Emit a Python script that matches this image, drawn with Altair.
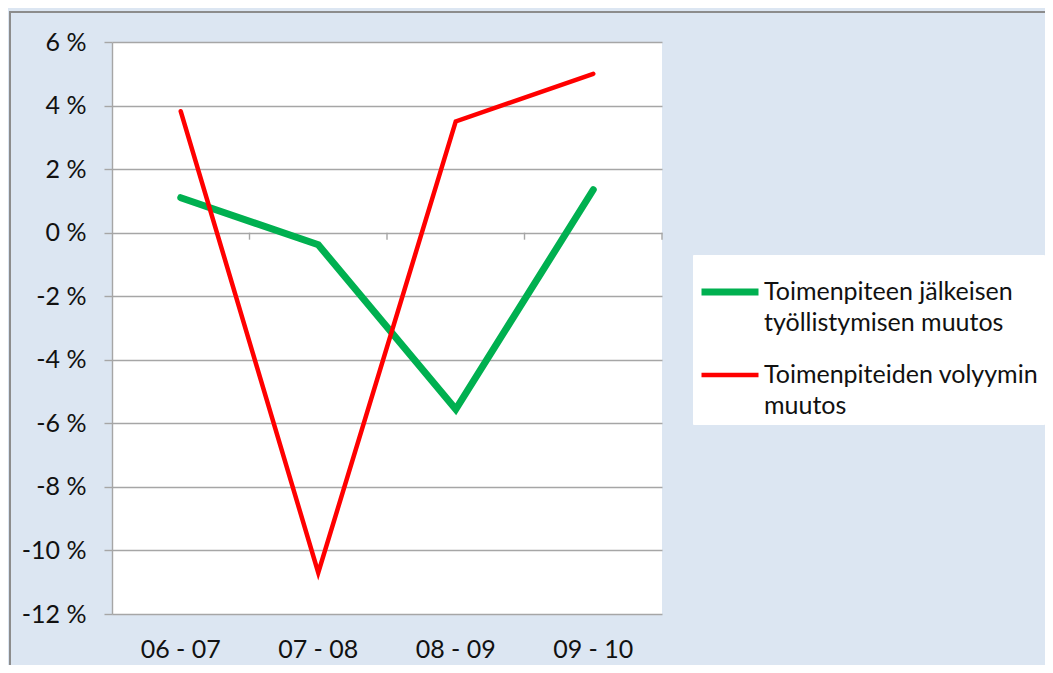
import altair as alt
import pandas as pd

periods = ["06 - 07", "07 - 08", "08 - 09", "09 - 10"]
series_names = [
    "Toimenpiteen jälkeisen|työllistymisen muutos",
    "Toimenpiteiden volyymin|muutos",
]
employment_change = [1.1, -0.38, -5.56, 1.35]
volume_change = [3.82, -10.7, 3.5, 5.0]
y_ticks = [-12, -10, -8, -6, -4, -2, 0, 2, 4, 6]
colors = ["#00B050", "#FF0000"]
widths = [7, 4.5]

rows = []
for p, v in zip(periods, employment_change):
    rows.append({"period": p, "series": series_names[0], "value": v, "order": 0})
for p, v in zip(periods, volume_change):
    rows.append({"period": p, "series": series_names[1], "value": v, "order": 1})
df = pd.DataFrame(rows)
ticks_df = pd.DataFrame({"period": periods})
frame_df = pd.DataFrame({"a": [0]})

FONT = "Lato"
GRID = "#A6A6A6"

x_enc = alt.X(
    "period:O",
    sort=periods,
    bandPosition=0.5,
    scale=alt.Scale(type="band", paddingInner=0, paddingOuter=0),
    axis=alt.Axis(
        title=None, labelAngle=0, domain=False, ticks=False, grid=False,
        bandPosition=0.5, labelAlign="center",
        labelFont=FONT, labelFontSize=25, labelColor="#111", labelPadding=35,
    ),
)
y_enc = alt.Y(
    "value:Q",
    scale=alt.Scale(domain=[-12, 6], nice=False),
    axis=alt.Axis(
        title=None, values=y_ticks, labelExpr="datum.value + ' %'",
        grid=True, gridColor=GRID, gridWidth=1.4,
        domain=True, domainColor=GRID, domainWidth=1.4,
        ticks=True, tickColor=GRID, tickSize=8, tickWidth=1.4,
        labelFont=FONT, labelFontSize=25, labelColor="#111", labelPadding=18,
    ),
)

lines = alt.Chart(df).mark_line(strokeCap="round").encode(
    x=x_enc,
    y=y_enc,
    color=alt.Color(
        "series:N",
        sort=series_names,
        scale=alt.Scale(domain=series_names, range=colors),
        legend=alt.Legend(title=None, labelExpr="split(datum.label, '|')"),
    ),
    strokeWidth=alt.StrokeWidth(
        "series:N",
        sort=series_names,
        scale=alt.Scale(domain=series_names, range=widths),
        legend=alt.Legend(title=None, labelExpr="split(datum.label, '|')"),
    ),
    order="order:O",
)

zero_ticks = alt.Chart(ticks_df).mark_rule(color=GRID, strokeWidth=1.4, y2Offset=7).encode(
    x=alt.X("period:O", sort=periods, bandPosition=1),
    y=alt.datum(0),
    y2=alt.datum(0),
)

frame = alt.Chart(frame_df).mark_rect(filled=False, stroke="#8C8C8C", strokeWidth=2).encode(
    x=alt.value(-102), x2=alt.value(1000), y=alt.value(-30), y2=alt.value(700)
)

chart = (
    alt.layer(frame, zero_ticks, lines)
    .properties(
        width=550,
        height=572,
        padding={"left": 104, "top": 34, "right": 383, "bottom": 51},
        autosize=alt.AutoSizeParams(type="none"),
        background="#DCE6F2",
    )
    .configure(style={"guide-label": {"lineHeight": 31}})
    .configure_view(fill="white", stroke=None)
    .configure_legend(
        orient="none", legendX=581, legendY=213,
        fillColor="white", padding=5, strokeColor="white",
        symbolType="stroke", symbolSize=3249, labelOffset=2,
        labelFont=FONT, labelFontSize=25, labelColor="#111", labelLimit=0,
        rowPadding=8,
    )
)

chart.save("out.html", embed_options={"renderer": "svg", "actions": False})
